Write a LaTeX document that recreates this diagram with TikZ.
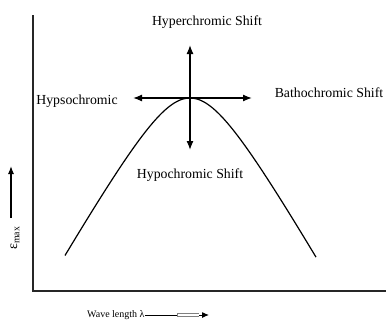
\documentclass[tikz,border=0pt]{standalone}
\usepackage{fontspec}
\setmainfont{Liberation Serif}
\usetikzlibrary{arrows.meta}
\begin{document}
\begin{tikzpicture}[x=1pt,y=-1pt,
  axis/.style={line width=1.1pt,black!85},
  shiftarrow/.style={line width=1.3pt,{Latex[length=9pt,width=7pt]}-{Latex[length=9pt,width=7pt]}},
  lbl/.style={font=\fontsize{13.8}{16}\selectfont,inner sep=0pt},
  small/.style={font=\fontsize{10}{12}\selectfont,inner sep=0pt}]
\useasboundingbox (0,0) rectangle (386,324);
% axes
\coordinate (top) at (33,15);
\coordinate (origin) at (33,291);
\coordinate (xend) at (386,291);
\draw[axis] (top) -- (origin) -- (xend);
% curve
\draw[line width=1.2pt] plot[domain=-12.5:12.6,samples=120,smooth]
  ({190+10*\x},{98+17.5*(sqrt(\x*\x+17.5)-4.183)});
% shift arrows
\coordinate (peak) at (190,98);
\coordinate (up) at (190,45);
\coordinate (down) at (190,150);
\coordinate (left) at (133,98);
\coordinate (right) at (252,98);
\draw[shiftarrow] (up) -- (down);
\draw[shiftarrow] (left) -- (right);
% labels
\node[lbl] (hyper) at (207,22) {Hyperchromic Shift};
\node[lbl] (batho) at (329,93) {Bathochromic Shift};
\node[lbl] (hypso) at (77,101) {Hypsochromic};
\node[lbl] (hypo) at (190,175) {Hypochromic Shift};
% y label
\node[rotate=90,inner sep=0pt,font=\fontsize{14}{16}\selectfont] (eps) at (15,238) {ε\textsubscript{max}};
\coordinate (ya) at (11,218);
\coordinate (yb) at (11,166);
\draw[line width=1.2pt,-{Latex[length=8pt,width=6pt]}] (ya) -- (yb);
% x label
\node[small,anchor=west] (wl) at (87,315) {Wave length λ};
\coordinate (xa) at (wl.east);
\coordinate (xb) at (177,315);
\coordinate (xc) at (199,315);
\coordinate (xd) at (209,315);
\draw[line width=1pt] (xa) -- (xb);
\draw[black!50,line width=0.6pt] (xb) ++(0,-1.5) -- ++(22,0) (xb) ++(0,1.5) -- ++(22,0);
\draw[black!50,line width=0.6pt] (xb) ++(0,-1.5) -- ++(0,3);
\draw[line width=1pt,-{Latex[length=7pt,width=6pt]}] (xc) -- (xd);
\end{tikzpicture}
\end{document}
